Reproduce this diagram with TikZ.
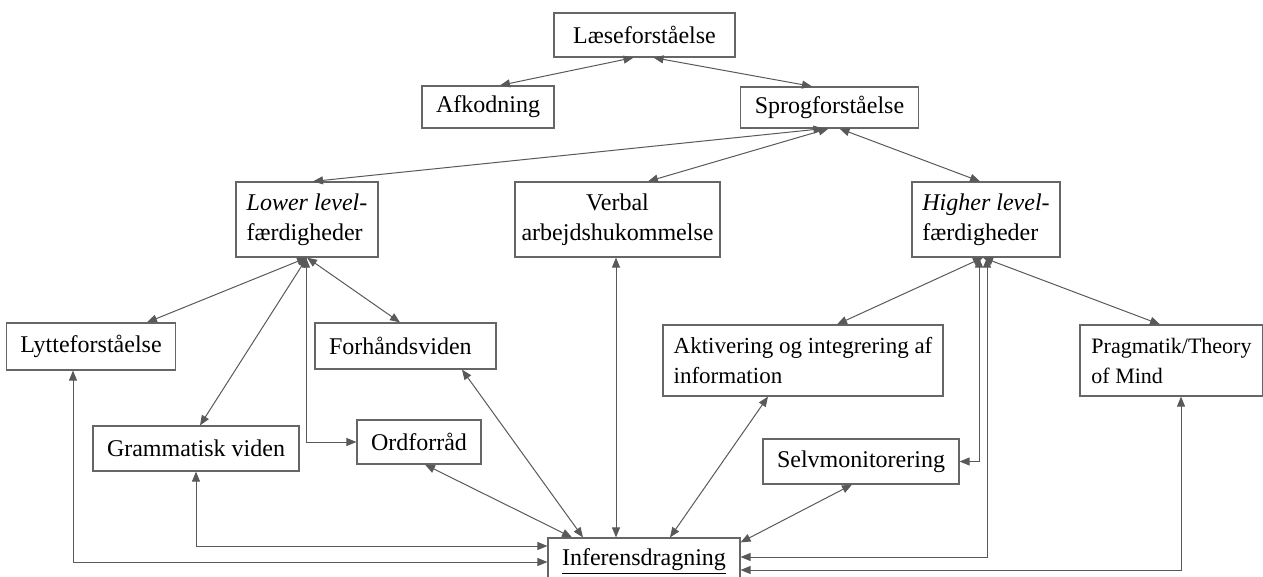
\documentclass[tikz,border=0pt]{standalone}
\usepackage{fontspec}
\setmainfont{Liberation Serif}
\usetikzlibrary{arrows.meta,calc}

\tikzset{
    boks/.style={draw=black!60, line width=0.6pt, fill=white, inner xsep=7pt, inner ysep=2pt,
        font=\fontsize{12}{15}\selectfont},
    pil/.style={{Triangle[length=5pt,width=4pt]}-{Triangle[length=5pt,width=4pt]},
        draw=black!65, line width=0.5pt}
}

\begin{document}
\begin{tikzpicture}[x=0.5pt, y=-0.5pt]
                \useasboundingbox (0,0) rectangle (1263,577);

                % Top
                \node[boks, minimum width=90.5pt, minimum height=22pt] (laese) at (644.5,35) {Læseforståelse};
                \node[boks, minimum width=66pt, minimum height=21pt] (afk) at (488,107) {Afkodning};
                \node[boks, minimum width=88.5pt, minimum height=20.5pt] (sprog) at (829.5,107.5) {Sprogforståelse};

                % Level
                \node[boks, inner xsep=3pt, minimum width=71pt, align=left, minimum height=37.5pt] (lower) at (307,219.5) {\textit{Lower level}-\\færdigheder};
                \node[boks, inner xsep=3pt, minimum width=102.5pt, align=center, minimum height=37.5pt] (verbal) at (617.5,219.5) {Verbal\\arbejdshukommelse};
                \node[boks, inner xsep=3pt, minimum width=74pt, align=left, minimum height=37.5pt] (higher) at (986,219.5) {\textit{Higher level}-\\færdigheder};

                % Lower level skills
                \node[boks, minimum width=82pt, minimum height=23.5pt] (lytte) at (91,346.5) {Lytteforståelse};
                \node[boks, text width=76.5pt, align=left, minimum height=23pt] (forh) at (405.5,346) {Forhåndsviden};
                \node[boks, minimum width=97pt, minimum height=22.5pt] (gram) at (196,448.5) {Grammatisk viden};
                \node[boks, minimum width=60pt, minimum height=22pt] (ordf) at (419,442) {Ordforråd};

                % Higher level skills
                \node[boks, font=\fontsize{11.5}{15}\selectfont, inner xsep=3pt, minimum width=140pt, align=left, minimum height=35.5pt] (aktiv) at (803,360.5) {Aktivering og integrering af\\information};
                \node[boks, font=\fontsize{11}{15}\selectfont, inner xsep=3pt, minimum width=91.5pt, align=left, minimum height=35.5pt] (prag) at (1171.5,360.5) {Pragmatik/Theory\\of Mind};
                \node[boks, minimum width=92pt, minimum height=22.5pt] (selv) at (861,461.5) {Selvmonitorering};

                % Inference
                \node[boks, minimum width=90pt, minimum height=24pt] (infer) at (644,562) {\underline{Inferensdragning}};

                % Top connectors
                \draw[pil] ($(laese.south)+(-11,0)$) -- ($(afk.north)+(12,0)$);
                \draw[pil] ($(laese.south)+(9,0)$) -- ($(sprog.north)+(-17.5,0)$);
                \draw[pil] ($(sprog.south)+(-6,0)$) -- ($(lower.north)+(6,0)$);
                \draw[pil] ($(sprog.south)+(-1,0)$) -- ($(verbal.north)+(30.5,0)$);
                \draw[pil] ($(sprog.south)+(10,0)$) -- ($(higher.north)+(-6,0)$);

                % Lower level connectors
                \draw[pil] (lower.south) -- ($(lytte.north)+(56,0)$);
                \draw[pil] (lower.south) -- ($(gram.north)+(4,0)$);
                \draw[pil] ($(lower.south)+(-1,0)$) |- (ordf.west);
                \draw[pil] (lower.south) -- ($(forh.north)+(-5.5,0)$);

                % Higher level connectors
                \draw[pil] ($(higher.south)+(-3,0)$) -- ($(aktiv.north)+(34,0)$);
                \draw[pil] ($(higher.south)+(-3,0)$) -- ($(prag.north)+(-11.5,0)$);
                \draw[pil] ($(higher.south)+(-7,0)$) |- (selv.east);
                \draw[pil] ($(higher.south)+(1,0)$) |- ($(infer.east)+(0,-5)$);

                % Into inference
                \draw[pil] ($(verbal.south)+(-1.5,0)$) -- ($(infer.north)+(-28,0)$);
                \draw[pil] ($(prag.south)+(9.5,0)$) |- ($(infer.east)+(0,8)$);
                \draw[pil] ($(lytte.south)+(-18,0)$) |- (infer.west);
                \draw[pil] (gram.south) |- ($(infer.west)+(0,-16)$);
                \draw[pil] ($(ordf.south)+(6,0)$) -- ($(infer.north)+(-72,0)$);
                \draw[pil] ($(forh.south)+(56.5,0)$) -- ($(infer.north)+(-61,0)$);
                \draw[pil] ($(aktiv.south)+(-35,0)$) -- ($(infer.north)+(26,0)$);
                \draw[pil] ($(selv.south)+(-9,0)$) -- ($(infer.north east)+(0,5)$);

\end{tikzpicture}
\end{document}
